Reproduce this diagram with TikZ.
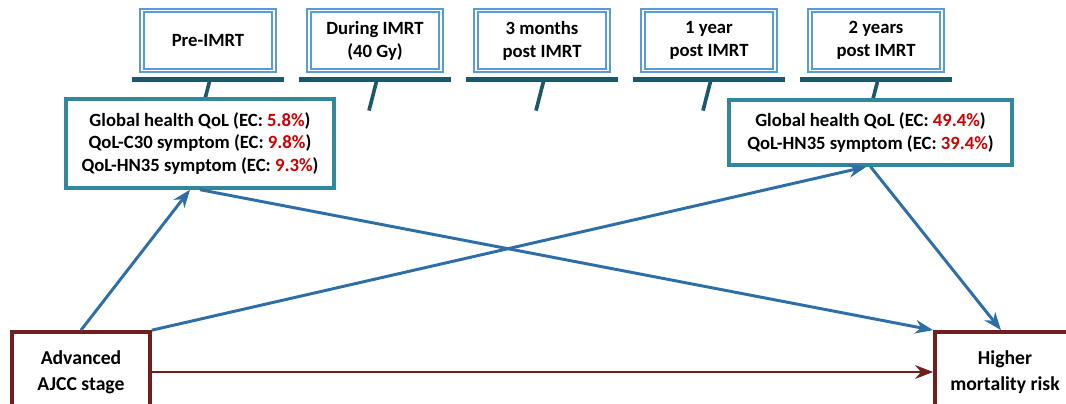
\documentclass[tikz,border=0pt]{standalone}
\usepackage{fontspec}
\setmainfont{Carlito}
\usepackage{xcolor}
\usetikzlibrary{positioning,arrows.meta,calc}
\definecolor{tpblue}{RGB}{91,155,213}
\definecolor{bardark}{RGB}{29,88,104}
\definecolor{qolteal}{RGB}{49,135,155}
\definecolor{arrblue}{RGB}{46,110,166}
\definecolor{riskred}{RGB}{112,30,30}
\definecolor{ecred}{RGB}{204,0,0}

\newcommand{\ec}[1]{\textcolor{ecred}{#1}}

\begin{document}
\begin{tikzpicture}[every node/.style={font=\bfseries\fontsize{13.3}{16.3}\selectfont}]
  \tikzset{
    timept/.style={draw=tpblue, line width=1.3pt, double=white, double distance=1.1pt,
      minimum width=3.3cm, minimum height=1.5cm, align=center, fill=white},
    qolbox/.style={draw=qolteal, line width=2.4pt, align=center, fill=white},
    outcome/.style={draw=riskred, line width=2.6pt, minimum width=3.45cm, minimum height=2cm,
      align=center, font=\bfseries\fontsize{14}{18.4}\selectfont},
    tlbar/.style={draw=bardark, line width=3pt},
    tltick/.style={draw=bardark, line width=2.6pt},
    path/.style={draw=arrblue, line width=2.1pt, -{Stealth[length=4.5mm, width=3.4mm]}},
    direct/.style={draw=riskred, line width=2.1pt, -{Stealth[length=4.5mm, width=3.4mm]}}
  }
  \useasboundingbox (0,0) rectangle (26.65,-10.075);

  % Time points
  \node[timept] (tp1) at (5.2, -1.0125)    {Pre-IMRT};
  \node[timept] (tp2) at (9.375, -1.0125)  {During IMRT\\(40 Gy)};
  \node[timept] (tp3) at (13.55, -1.0125)  {3 months\\post IMRT};
  \node[timept] (tp4) at (17.725, -1.0125) {1 year\\post IMRT};
  \node[timept] (tp5) at (21.9, -1.0125)   {2 years\\post IMRT};

  % Timeline bars and ticks
  \foreach \t in {tp1,tp2,tp3,tp4,tp5} {
    \draw[tlbar] ($(\t.south)+(-1.9,-0.2)$) -- ($(\t.south)+(1.9,-0.2)$);
    \coordinate (\t-end) at ($(\t.south)+(-0.15,-0.98)$);
    \draw[tltick] ($(\t.south)+(0.05,-0.2)$) -- (\t-end);
  }

  % QoL boxes
  \node[qolbox, minimum width=6.7cm, minimum height=2.225cm] (qolL) at (5.0, -3.5875)
    {Global health QoL (EC: \ec{5.8\%})\\QoL-C30 symptom (EC: \ec{9.8\%})\\QoL-HN35 symptom (EC: \ec{9.3\%})};
  \node[qolbox, minimum width=7.075cm, minimum height=1.625cm] (qolR) at (21.7625, -3.3125)
    {Global health QoL (EC: \ec{49.4\%})\\QoL-HN35 symptom (EC: \ec{39.4\%})};

  % Stage and outcome
  \node[outcome] (adv)  at (2.025, -9.3)  {Advanced\\AJCC stage};
  \node[outcome, minimum width=3.5cm] (high) at (25.125, -9.3) {Higher\\mortality risk};

  % Paths
  \draw[path] (adv.north) -- ([xshift=-0.25cm]qolL.south);
  \draw[path] (adv.north east) -- ([xshift=-0.1cm]qolR.south);
  \draw[path] (qolL.south) -- (high.north west);
  \draw[path] (qolR.south) -- ([xshift=-0.1cm]high.north);
  \draw[direct] (adv.east) -- (high.west);
\end{tikzpicture}
\end{document}
